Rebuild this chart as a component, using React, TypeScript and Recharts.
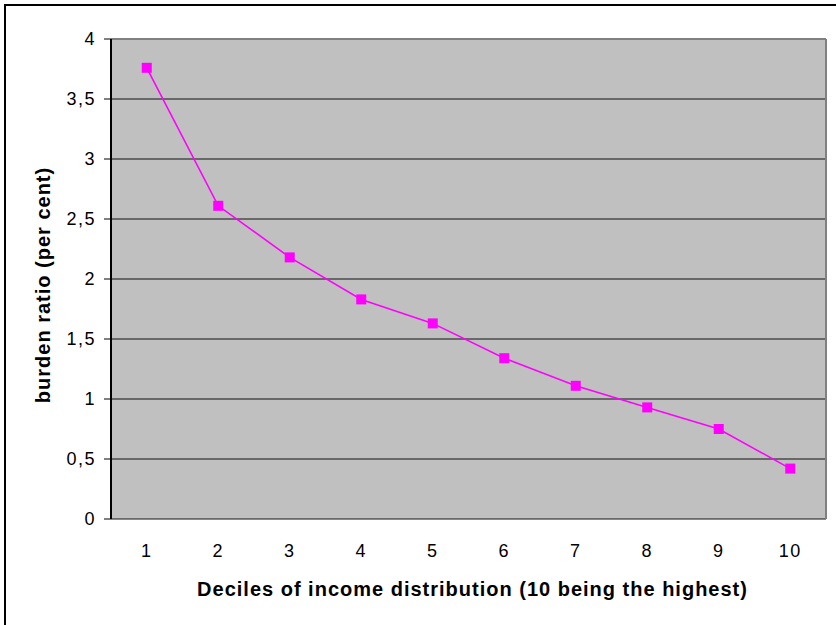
import React from 'react';
import { LineChart, Line, XAxis, YAxis, CartesianGrid, ReferenceLine } from 'recharts';

const deciles = [1, 2, 3, 4, 5, 6, 7, 8, 9, 10];
const burdenRatio = [3.76, 2.61, 2.18, 1.83, 1.63, 1.34, 1.11, 0.93, 0.75, 0.42];
const yTicks = [0, 0.5, 1, 1.5, 2, 2.5, 3, 3.5, 4];
const bandEdges = [0.5, 1.5, 2.5, 3.5, 4.5, 5.5, 6.5, 7.5, 8.5, 9.5, 10.5];
const xAxisTitle = 'Deciles of income distribution (10 being the highest)';
const yAxisTitle = 'burden ratio (per cent)';

const data = deciles.map((d, i) => ({ decile: d, ratio: burdenRatio[i] }));

const FONT = '"Liberation Sans", Arial, Helvetica, sans-serif';

const fmt = (v: number) => String(v).replace('.', ',');

const XTick = (props: any) => {
  const { x, y, payload } = props;
  return (
    <text x={x} y={y} dy="0.71em" textAnchor="middle" fill="#000" fontSize={18} letterSpacing={1.5} fontFamily={FONT}>
      {fmt(payload.value)}
    </text>
  );
};

const YTick = (props: any) => {
  const { x, y, payload } = props;
  return (
    <text x={x} y={y} dy="0.36em" textAnchor="end" fill="#000" fontSize={18} letterSpacing={1.5} fontFamily={FONT}>
      {fmt(payload.value)}
    </text>
  );
};

const SquareDot = (props: any) => {
  const { cx, cy } = props;
  if (cx == null || cy == null) return null;
  return <rect x={cx - 5} y={cy - 5} width={10} height={10} fill="#FF00FF" />;
};

export default function App() {
  return (
    <div
      style={{
        position: 'absolute',
        left: 0,
        top: 0,
        width: 836,
        height: 625,
        background: '#fff',
        overflow: 'hidden',
        fontFamily: FONT,
      }}
    >
      <div
        style={{
          position: 'absolute',
          left: 4,
          top: 4,
          width: 900,
          height: 700,
          borderTop: '2px solid #000',
          borderLeft: '2px solid #000',
        }}
      />
      <div style={{ position: 'absolute', left: 0, top: 0 }}>
        <LineChart
          width={836}
          height={625}
          data={data}
          margin={{ top: 39, right: 10, left: 0, bottom: 0 }}
          style={{ fontFamily: FONT }}
        >
          <CartesianGrid
            xAxisId="band"
            vertical={false}
            stroke="#111"
            fill="#C0C0C0"
            fillOpacity={1}
          />
          <XAxis
            xAxisId="band"
            type="number"
            dataKey="decile"
            domain={[0.5, 10.5]}
            ticks={bandEdges}
            interval={0}
            tickFormatter={() => ''}
            tickSize={7}
            tickLine={{ stroke: '#000' }}
            axisLine={{ stroke: '#000', strokeWidth: 2 }}
            height={0}
          />
          <XAxis
            xAxisId="lab"
            type="number"
            dataKey="decile"
            domain={[0.5, 10.5]}
            ticks={deciles}
            interval={0}
            tickLine={false}
            axisLine={false}
            tickSize={0}
            tickMargin={25}
            height={106}
            tick={<XTick />}
            label={{
              value: xAxisTitle,
              position: 'insideBottom',
              offset: 29,
              dx: 4,
              style: { fontWeight: 'bold', fontSize: 20, letterSpacing: 1, fill: '#000', fontFamily: FONT },
            }}
          />
          <YAxis
            domain={[0, 4]}
            ticks={yTicks}
            interval={0}
            width={111}
            tickSize={7}
            tickMargin={8}
            axisLine={{ stroke: '#000', strokeWidth: 2 }}
            tickLine={{ stroke: '#000' }}
            tick={<YTick />}
            label={{
              value: yAxisTitle,
              angle: -90,
              position: 'center',
              dx: -13,
              dy: 6,
              style: { fontWeight: 'bold', fontSize: 20, letterSpacing: 1, fill: '#000', fontFamily: FONT, textAnchor: 'middle' },
            }}
          />
          <ReferenceLine xAxisId="band" y={4} stroke="#808080" strokeWidth={2} />
          <ReferenceLine xAxisId="band" x={10.5} stroke="#808080" strokeWidth={2} />
          <Line
            xAxisId="band"
            type="linear"
            dataKey="ratio"
            stroke="#FF00FF"
            strokeWidth={1.6}
            dot={<SquareDot />}
            activeDot={false}
            isAnimationActive={false}
          />
        </LineChart>
      </div>
    </div>
  );
}
